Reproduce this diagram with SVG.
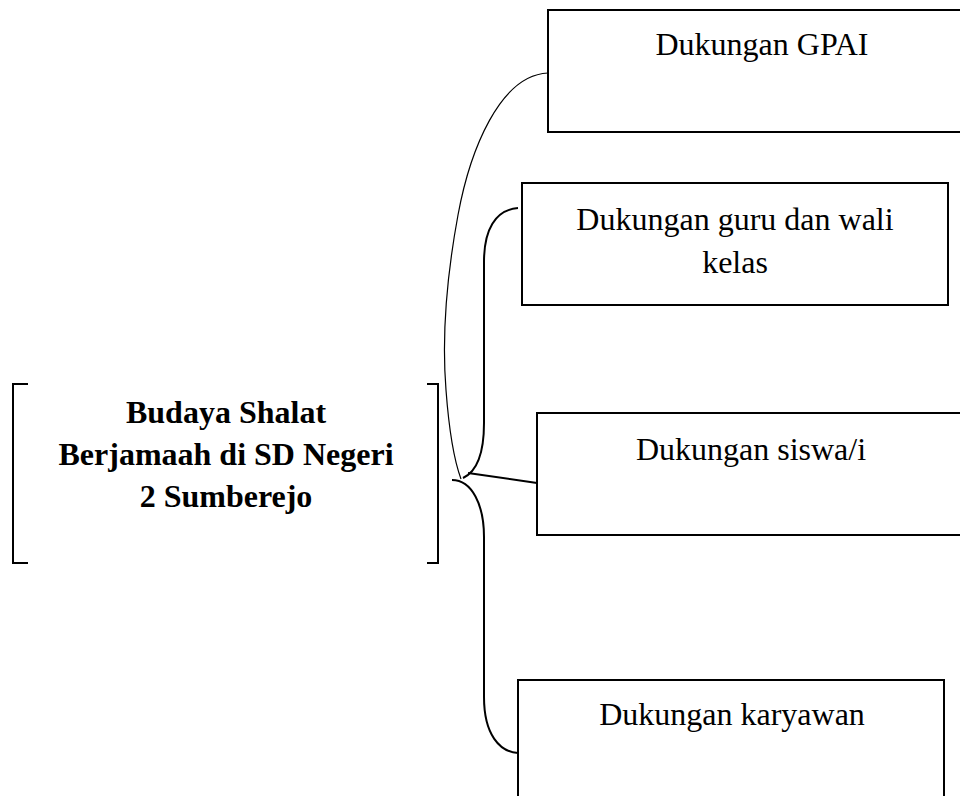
<svg xmlns="http://www.w3.org/2000/svg" width="960" height="796" viewBox="0 0 960 796">
<style>
.box{fill:#fff;stroke:#000;stroke-width:2}
.t{font-family:"Liberation Serif","Times New Roman",serif;font-size:32px;fill:#000;text-anchor:middle}
.b{font-weight:bold}
.c{fill:none;stroke:#000;stroke-width:2}
.thin{fill:none;stroke:#000;stroke-width:1.2}
</style>
<rect x="0" y="0" width="960" height="796" fill="#fff"/>
<g id="main">
<path class="c" d="M28,384 H13 V563 H28 M427,384 H438 V563 H427"/>
<text class="t b" x="226" y="423">Budaya Shalat</text>
<text class="t b" x="226" y="465">Berjamaah di SD Negeri</text>
<text class="t b" x="226" y="507">2 Sumberejo</text>
</g>
<g id="connectors">
<path class="thin" d="M548,73 C500,75 470,150 458,215 C446,280 442,340 446,390 C449,430 454,460 461,479"/>
<path class="c" d="M518,208 C495,210 484,230 484,262 L484,423 C484,455 476,472 463,478"/>
<path class="c" d="M468,473 L537,483"/>
<path class="c" d="M452,480 C472,480 484,505 484,537 L484,697 C484,735 500,752 518,753"/>
</g>
<g id="gpai">
<rect class="box" x="548" y="10" width="430" height="122"/>
<text class="t" x="762" y="55">Dukungan GPAI</text>
</g>
<g id="guru">
<rect class="box" x="522" y="183" width="426" height="122"/>
<text class="t" x="735" y="230">Dukungan guru dan wali</text>
<text class="t" x="735" y="273">kelas</text>
</g>
<g id="siswa">
<rect class="box" x="537" y="413" width="430" height="122"/>
<text class="t" x="751" y="460">Dukungan siswa/i</text>
</g>
<g id="karyawan">
<rect class="box" x="518" y="680" width="426" height="130"/>
<text class="t" x="732" y="725">Dukungan karyawan</text>
</g>
</svg>
